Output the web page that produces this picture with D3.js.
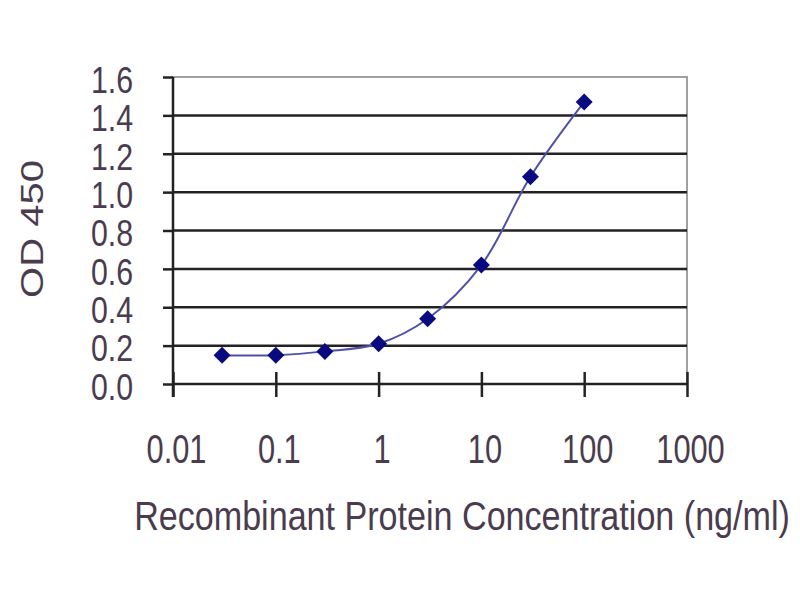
<!DOCTYPE html>
<head>
  <meta charset="utf-8">
  <script src="https://d3js.org/d3.v7.min.js"></script>
  <style>
    body { margin: 0; background: #fff; }
    text { font-family: "Liberation Sans", Arial, sans-serif; fill: #4a3c4e; }
  </style>
</head>
<body>
  <script>
    // data
    var conc = [0.03, 0.1, 0.3, 1, 3, 10, 30, 100];
    var od = [0.15, 0.15, 0.17, 0.21, 0.34, 0.62, 1.08, 1.47];
    var xTicks = [0.01, 0.1, 1, 10, 100, 1000];
    var yTicks = [0, 0.2, 0.4, 0.6, 0.8, 1.0, 1.2, 1.4, 1.6];

    var data = conc.map(function(c, i) { return { x: c, y: od[i] }; });

    var svg = d3.select("body").append("svg")
      .attr("width", 800)
      .attr("height", 600);

    var plotL = 173, plotR = 687, plotT = 77, plotB = 384;
    var sx = 0.77; // the picture's text is squeezed sideways
    var fs = "40px";

    var x = d3.scaleLog().domain([0.01, 1000]).range([plotL, plotR]);
    var y = d3.scaleLinear().domain([0, 1.6]).range([plotB, plotT]);

    // plot frame (top and right are light)
    svg.append("rect")
      .attr("x", plotL).attr("y", plotT)
      .attr("width", plotR - plotL).attr("height", plotB - plotT)
      .style("fill", "#fff")
      .style("stroke", "#a0a0a0")
      .style("stroke-width", 2);

    // gridlines
    svg.selectAll(".grid").data(yTicks.slice(1, -1)).enter()
      .append("line")
      .attr("class", "grid")
      .attr("x1", plotL).attr("x2", plotR)
      .attr("y1", function(d) { return y(d); })
      .attr("y2", function(d) { return y(d); })
      .style("stroke", "#222")
      .style("stroke-width", 2.5);

    // y axis
    var yAxis = svg.append("g")
      .attr("transform", "translate(" + plotL + ",0)")
      .call(d3.axisLeft(y).tickValues(yTicks).tickSize(10)
        .tickFormat(d3.format(".1f")));
    yAxis.select(".domain").remove();
    yAxis.selectAll(".tick line").style("stroke", "#222").style("stroke-width", 2.5);
    yAxis.selectAll("text")
      .style("font-size", "37px")
      .attr("text-anchor", "middle")
      .attr("x", -61 / 0.82)
      .attr("y", 2)
      .attr("dy", "0.36em")
      .attr("transform", "scale(0.82,1)");

    svg.append("line")
      .attr("x1", plotL).attr("x2", plotL)
      .attr("y1", plotT).attr("y2", plotB + 13)
      .style("stroke", "#222").style("stroke-width", 2.5);

    // x axis, ticks cross the line
    svg.append("line")
      .attr("x1", plotL).attr("x2", plotR)
      .attr("y1", plotB).attr("y2", plotB)
      .style("stroke", "#222").style("stroke-width", 2.5);

    var xAxis = svg.append("g")
      .attr("transform", "translate(0," + plotB + ")")
      .call(d3.axisBottom(x).tickValues(xTicks).tickSizeInner(13).tickSizeOuter(0)
        .tickFormat(function(d) { return String(d); }));
    xAxis.select(".domain").remove();
    xAxis.selectAll(".tick line").attr("y1", -12).style("stroke", "#222").style("stroke-width", 2.5);
    xAxis.selectAll("text")
      .style("font-size", fs)
      .attr("x", 3 / sx)
      .attr("y", 79)
      .attr("dy", 0)
      .attr("transform", "scale(" + sx + ",1)");

    // smoothed line
    var line = d3.line()
      .x(function(d) { return x(d.x); })
      .y(function(d) { return y(d.y); })
      .curve(d3.curveCatmullRom.alpha(0.5));

    svg.append("path")
      .datum(data)
      .attr("d", line)
      .style("fill", "none")
      .style("stroke", "#5050ac")
      .style("stroke-width", 2);

    // diamond markers
    svg.selectAll(".pt").data(data).enter()
      .append("path")
      .attr("class", "pt")
      .attr("transform", function(d) { return "translate(" + x(d.x) + "," + y(d.y) + ")"; })
      .attr("d", "M0,-8.5L8.5,0L0,8.5L-8.5,0Z")
      .style("fill", "#0a0a80");

    // axis titles
    svg.append("text")
      .text("OD 450")
      .attr("transform", "translate(43,229) scale(" + sx + ",1) rotate(-90)")
      .attr("text-anchor", "middle")
      .style("font-size", fs);

    var xTitle = svg.append("text")
      .text("Recombinant Protein Concentration (ng/ml)")
      .attr("text-anchor", "middle")
      .style("font-size", fs);
    // squeeze it to the width it has in the picture
    var k = 656 / xTitle.node().getComputedTextLength();
    xTitle.attr("transform", "translate(462,530) scale(" + k + ",1)");
  </script>
</body>
